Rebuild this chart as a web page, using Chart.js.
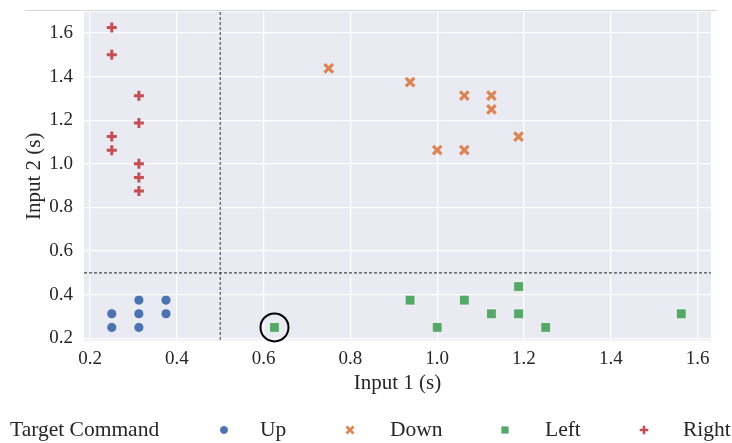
<!DOCTYPE html>
<html>
<head>
<meta charset="utf-8">
<script src="https://cdn.jsdelivr.net/npm/chart.js@4/dist/chart.umd.min.js"></script>
<style>
html,body{margin:0;padding:0;background:#fff;}
#wrap{position:relative;width:732px;height:443px;}
</style>
</head>
<body>
<div id="wrap"><canvas id="c" width="732" height="443"></canvas></div>
<script>
// ---- data ----
const upX = [0.25, 0.25, 0.3125, 0.3125, 0.3125, 0.375, 0.375];
const upY = [0.3125, 0.25, 0.375, 0.3125, 0.25, 0.375, 0.3125];
const downX = [0.75, 0.9375, 1.0625, 1.125, 1.125, 1.1875, 1.0, 1.0625];
const downY = [1.4375, 1.375, 1.3125, 1.3125, 1.25, 1.125, 1.0625, 1.0625];
const leftX = [0.9375, 1.0625, 1.1875, 1.125, 1.1875, 1.0, 1.25, 1.5625, 0.625];
const leftY = [0.375, 0.375, 0.4375, 0.3125, 0.3125, 0.25, 0.25, 0.3125, 0.25];
const rightX = [0.25, 0.25, 0.25, 0.25, 0.3125, 0.3125, 0.3125, 0.3125, 0.3125];
const rightY = [1.625, 1.5, 1.125, 1.0625, 1.3125, 1.1875, 1.0, 0.9375, 0.875];
const highlightX = [0.625];
const highlightY = [0.25];
const thresholdX = 0.5;
const thresholdY = 0.5;
const xTicks = [0.2, 0.4, 0.6, 0.8, 1.0, 1.2, 1.4, 1.6];
const yTicks = [0.2, 0.4, 0.6, 0.8, 1.0, 1.2, 1.4, 1.6];
const seriesNames = ['Up', 'Down', 'Left', 'Right'];
const legendTitle = 'Target Command';
const xTitle = 'Input 1 (s)';
const yTitle = 'Input 2 (s)';

const pts = (xs, ys) => xs.map((x, i) => ({x: x, y: ys[i]}));
const FONT = '"Liberation Serif", "DejaVu Serif", serif';
const TXT = '#262626';

const datasets = [
  {label: seriesNames[0], data: pts(upX, upY), pointStyle: 'circle', pointRadius: 5,
   backgroundColor: '#4c72b0', borderColor: '#ffffff', borderWidth: 0.7},
  {label: seriesNames[1], data: pts(downX, downY), pointStyle: 'crossRot', pointRadius: 6,
   backgroundColor: '#dd8452', borderColor: '#dd8452', borderWidth: 3.2},
  {label: seriesNames[2], data: pts(leftX, leftY), pointStyle: 'rect', pointRadius: 6.9,
   backgroundColor: '#55a868', borderColor: '#ffffff', borderWidth: 0.7},
  {label: seriesNames[3], data: pts(rightX, rightY), pointStyle: 'cross', pointRadius: 5,
   backgroundColor: '#c44e52', borderColor: '#c44e52', borderWidth: 3},
  {label: 'highlight', data: pts(highlightX, highlightY), pointStyle: 'circle', pointRadius: 14,
   backgroundColor: 'rgba(0,0,0,0)', borderColor: '#000000', borderWidth: 2, clip: false}
];

const decor = {
  id: 'decor',
  beforeDraw(chart) {
    const {ctx, chartArea: a} = chart;
    ctx.save();
    ctx.fillStyle = '#eaeaf2';
    ctx.fillRect(a.left, a.top, a.right - a.left, a.bottom - a.top);
    ctx.strokeStyle = '#d4d4d4';
    ctx.lineWidth = 1;
    ctx.beginPath();
    ctx.moveTo(25, 10.5); ctx.lineTo(717, 10.5);
    ctx.stroke();
    ctx.restore();
  },
  beforeDatasetsDraw(chart) {
    const {ctx, chartArea: a, scales} = chart;
    const px = scales.x.getPixelForValue(thresholdX);
    const py = scales.y.getPixelForValue(thresholdY);
    ctx.save();
    ctx.strokeStyle = '#4a4a4a';
    ctx.lineWidth = 1.1;
    ctx.setLineDash([3, 2]);
    ctx.beginPath();
    ctx.moveTo(px, a.top); ctx.lineTo(px, a.bottom);
    ctx.moveTo(a.left, py); ctx.lineTo(a.right, py);
    ctx.stroke();
    ctx.restore();
  },
  afterDraw(chart) {
    const {ctx} = chart;
    const y = 430;
    ctx.save();
    ctx.font = '21.5px ' + FONT;
    ctx.fillStyle = TXT;
    ctx.textBaseline = 'middle';
    ctx.textAlign = 'left';
    ctx.fillText(legendTitle, 10, y);
    const markX = [224, 350, 505, 644];
    const textX = [260, 390, 545, 683];
    const sizes = [4.3, 5, 5.6, 4.3];
    for (let i = 0; i < 4; i++) {
      const ds = chart.data.datasets[i];
      ctx.fillStyle = ds.backgroundColor;
      ctx.strokeStyle = ds.borderColor;
      ctx.lineWidth = ds.borderWidth === 0.7 ? 0.7 : 2.6;
      Chart.helpers.drawPoint(ctx, {pointStyle: ds.pointStyle, radius: sizes[i], rotation: 0, borderWidth: ctx.lineWidth}, markX[i], y);
      ctx.fillStyle = TXT;
      ctx.fillText(seriesNames[i], textX[i], y);
    }
    ctx.restore();
  }
};

new Chart(document.getElementById('c'), {
  type: 'scatter',
  data: {datasets: datasets},
  plugins: [decor],
  options: {
    responsive: false,
    animation: false,
    devicePixelRatio: 1,
    layout: {autoPadding: false, padding: {left: 0, top: 12, right: 21, bottom: 42.5}},
    plugins: {legend: {display: false}, tooltip: {enabled: false}},
    scales: {
      x: {
        type: 'linear', min: 0.186, max: 1.631,
        afterBuildTicks: s => { s.ticks = xTicks.map(v => ({value: v})); },
        afterFit: s => { s.height = 60; s.paddingLeft = 0; s.paddingRight = 0; },
        grid: {color: '#ffffff', lineWidth: 1.3, drawTicks: false},
        border: {display: false},
        ticks: {color: TXT, font: {family: FONT, size: 19}, padding: 7,
                maxRotation: 0, autoSkip: false, callback: v => Number(v).toFixed(1)},
        title: {display: true, text: xTitle, color: TXT, font: {family: FONT, size: 21},
                padding: {top: 0, bottom: 4}}
      },
      y: {
        type: 'linear', min: 0.19, max: 1.696,
        afterBuildTicks: s => { s.ticks = yTicks.map(v => ({value: v})); },
        afterFit: s => { s.width = 84; s.paddingTop = 0; s.paddingBottom = 0; },
        grid: {color: '#ffffff', lineWidth: 1.3, drawTicks: false},
        border: {display: false},
        ticks: {color: TXT, font: {family: FONT, size: 19}, padding: 11,
                autoSkip: false, callback: v => Number(v).toFixed(1)},
        title: {display: true, text: yTitle, color: TXT, font: {family: FONT, size: 21},
                padding: {top: 22, bottom: 0}}
      }
    }
  }
});
</script>
</body>
</html>
